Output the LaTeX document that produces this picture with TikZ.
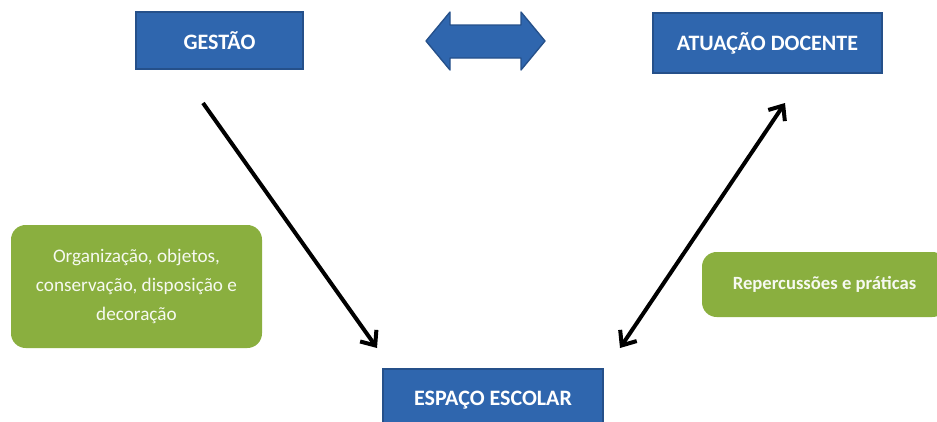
\documentclass[tikz,border=0pt]{standalone}
\usepackage{fontspec}
\setmainfont{Carlito}
\usetikzlibrary{arrows.meta}
\definecolor{boxblue}{HTML}{2F66AE}
\definecolor{boxblueedge}{HTML}{25508A}
\definecolor{boxgreen}{HTML}{8AAF3F}
\tikzset{
  bluebox/.style={draw=boxblueedge, line width=1.2pt, fill=boxblue, text=white,
    font=\fontsize{16.5}{19}\selectfont\bfseries, inner sep=0pt},
  greenbox/.style={fill=boxgreen, rounded corners=11pt, text=white!92!boxgreen,
    align=center, inner sep=0pt},
  conn/.style={line width=3pt, black},
  barb/.tip={Straight Barb[length=9pt, width=15pt, line width=3pt]}
}
\begin{document}
\begin{tikzpicture}[x=0.75pt, y=-0.75pt]
\useasboundingbox (0,0) rectangle (937,421);
\clip (0,0) rectangle (937,421);
\node[bluebox, minimum width=167*0.75pt, minimum height=57*0.75pt] (gestao) at (219.5,40.5) {GESTÃO};
\node[bluebox, minimum width=229*0.75pt, minimum height=60*0.75pt] (atuacao) at (767.5,43) {ATUAÇÃO DOCENTE};
\node[bluebox, minimum width=220*0.75pt, minimum height=62*0.75pt] (espaco) at (493,400) {ESPAÇO ESCOLAR};
\node[greenbox, minimum width=251*0.75pt, minimum height=123*0.75pt,
  font=\fontsize{14.4}{21.8}\selectfont] (org) at (136.5,286.5)
  {Organização, objetos,\\conservação, disposição e\\decoração};
\node[greenbox, minimum width=245*0.75pt, minimum height=65*0.75pt,
  font=\fontsize{14}{17}\selectfont\bfseries] (rep) at (824.5,284.5) {Repercussões e práticas};
% double block arrow between the two top boxes
\draw[boxblueedge, line width=1pt, fill=boxblue, line join=round]
  (426,41) -- (450,12) -- (450,25) -- (521,25) -- (521,12) -- (545,41)
  -- (521,70) -- (521,58) -- (450,58) -- (450,70) -- cycle;
% connectors
\coordinate (gs) at (203,103);
\coordinate (ge) at (377,348);
\coordinate (as) at (785,103);
\coordinate (ae) at (620,348);
\draw[conn, -{barb}] (gs) -- (ge);
\draw[conn, {barb}-{barb}] (ae) -- (as);
\end{tikzpicture}
\end{document}
